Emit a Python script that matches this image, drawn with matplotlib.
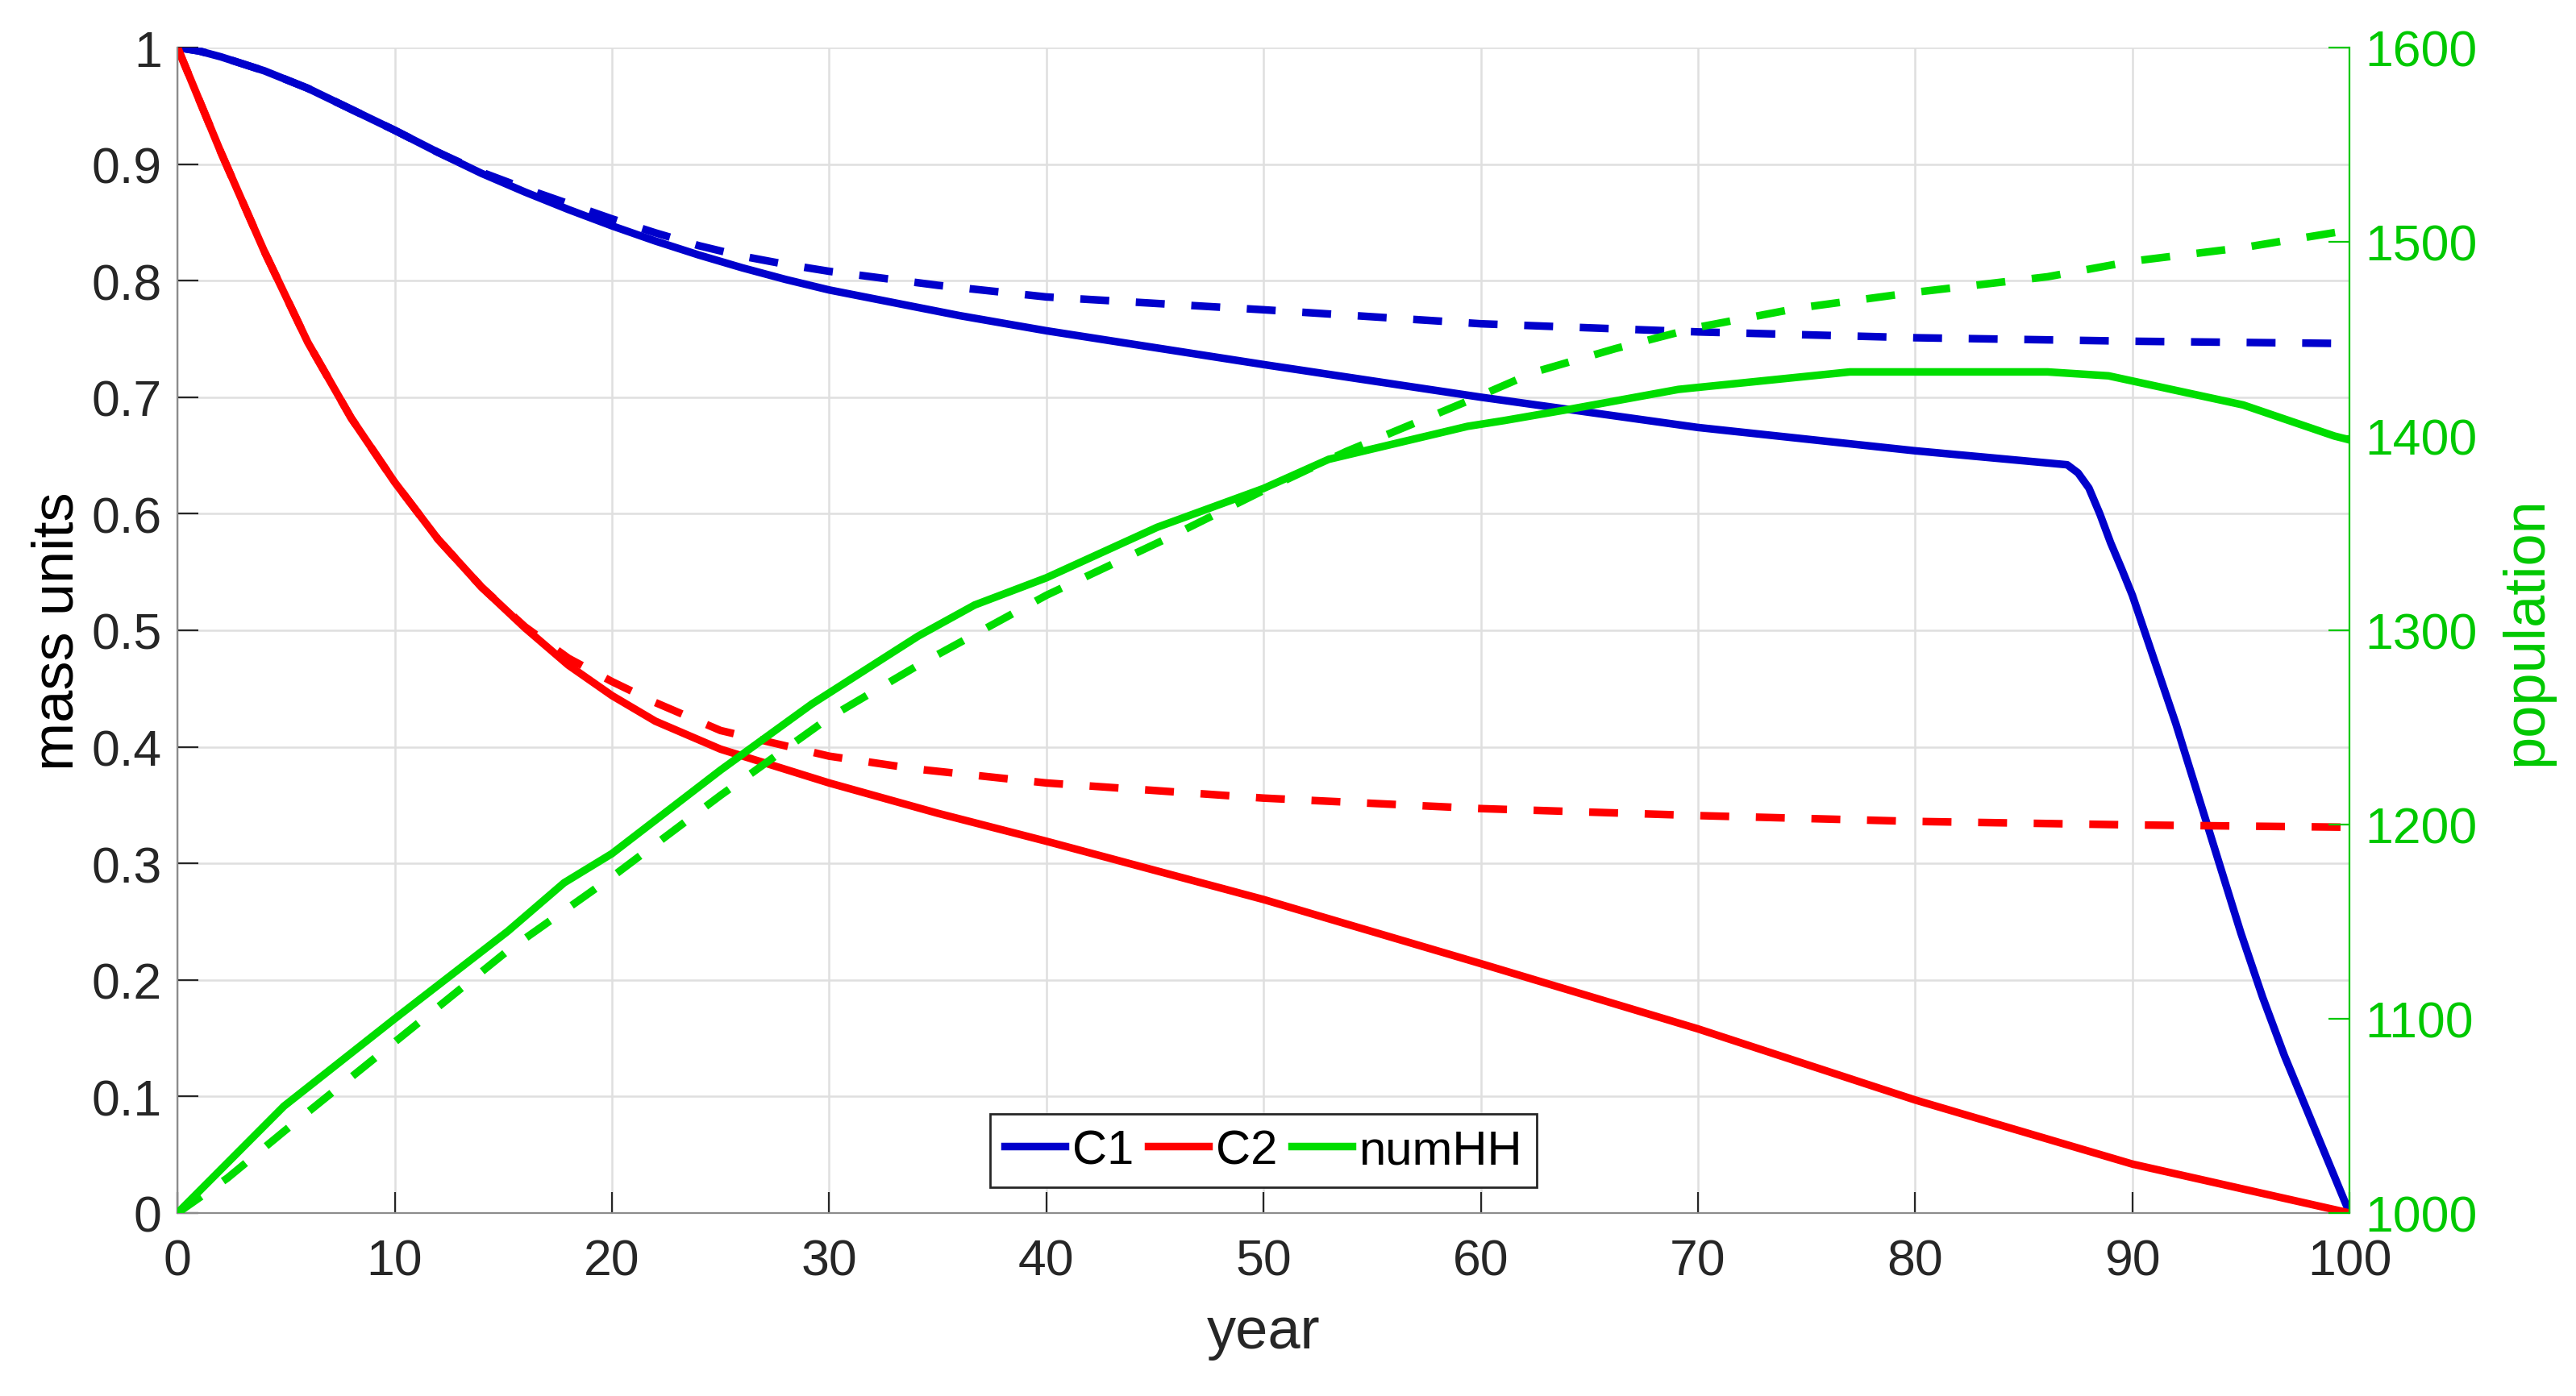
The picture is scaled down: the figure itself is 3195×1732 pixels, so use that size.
import numpy as np
import matplotlib
matplotlib.use('Agg')
import matplotlib.pyplot as plt

plt.rcParams['font.family'] = ['Liberation Sans', 'DejaVu Sans']

# C1 (solid) and C1 dashed, mass units
t_c1 = [0, 1, 2, 4, 6, 8, 10, 12, 14, 16, 18, 20, 22, 24, 26, 28, 30, 33, 36, 40, 50, 60,
        70, 80, 87, 87.5, 88, 88.5, 89, 89.5, 90, 91, 92, 93, 94, 95, 96, 97, 98, 99, 100]
c1 = [1.0, 0.997, 0.992, 0.98, 0.965, 0.947, 0.929, 0.91, 0.892, 0.876, 0.861, 0.847,
      0.834, 0.822, 0.811, 0.801, 0.792, 0.781, 0.770, 0.757, 0.728, 0.700, 0.674, 0.654,
      0.642, 0.635, 0.622, 0.600, 0.575, 0.553, 0.530, 0.475, 0.420, 0.360, 0.300, 0.240,
      0.185, 0.135, 0.090, 0.045, 0.0]
t_c1d = [0, 1, 2, 4, 6, 8, 10, 12, 14, 16, 18, 20, 22, 24, 26, 28, 30, 35, 40, 50, 60, 70,
         80, 90, 100]
c1d = [1.0, 0.997, 0.992, 0.98, 0.965, 0.947, 0.929, 0.91, 0.893, 0.879, 0.866, 0.853,
       0.841, 0.830, 0.821, 0.814, 0.808, 0.796, 0.786, 0.775, 0.763, 0.756, 0.751, 0.748,
       0.746]

# C2 (solid) and C2 dashed
t_c2 = [0, 2, 4, 6, 8, 10, 12, 14, 16, 18, 20, 22, 25, 30, 35, 40, 50, 60, 70, 80, 90, 100]
c2 = [1.0, 0.91, 0.825, 0.747, 0.682, 0.627, 0.578, 0.537, 0.502, 0.470, 0.444, 0.422,
      0.398, 0.369, 0.343, 0.319, 0.269, 0.214, 0.158, 0.097, 0.042, 0.0]
t_c2d = [0, 2, 4, 6, 8, 10, 12, 14, 16, 18, 20, 22, 25, 30, 34, 40, 50, 60, 70, 80, 90, 100]
c2d = [1.0, 0.91, 0.825, 0.747, 0.682, 0.627, 0.578, 0.537, 0.503, 0.476, 0.456, 0.438,
       0.414, 0.392, 0.381, 0.369, 0.356, 0.347, 0.341, 0.336, 0.333, 0.331]

# numHH population (solid) and dashed
t_hh = [0, 4.9, 10, 15.2, 17.8, 20, 25, 29.2, 34.1, 36.7, 40, 45.1, 50, 53, 59.4, 61.1,
        64.2, 69.1, 77, 86.1, 88.9, 95.1, 99.3, 100]
hh = [1000, 1055, 1100, 1145, 1170, 1185, 1228, 1262, 1297, 1313, 1327, 1353, 1373, 1388,
      1405, 1408, 1414, 1424, 1433, 1433, 1431, 1416, 1400, 1398]
t_hhd = [0, 2.3, 4.9, 10, 15.2, 20, 25, 30, 34.1, 40, 45.5, 50, 53.8, 59.4, 62.5, 66.2,
         70, 74.7, 80, 86.1, 90, 95.1, 100]
hhd = [1000, 1018, 1042, 1088, 1135, 1173, 1215, 1255, 1282, 1318, 1347, 1372, 1392, 1418,
       1433, 1445, 1456, 1466, 1474, 1482, 1490, 1497, 1506]

blue = '#0000CC'
red = '#FF0000'
green = '#00DD00'
green_txt = '#00C800'
dark = '#262626'
lw = 3.4
dash = (3.8, 3.5)
fs_tick = 22.5
fs_lab = 26

fig = plt.figure(figsize=(15.975, 8.665), dpi=200)
ax1 = fig.add_axes([0.0689, 0.131, 0.8432, 0.8344])
ax2 = ax1.twinx()

l1, = ax1.plot(t_c1, c1, color=blue, lw=lw, label='C1')
ax1.plot(t_c1d, c1d, color=blue, lw=lw, dashes=dash)
l2, = ax1.plot(t_c2, c2, color=red, lw=lw, label='C2')
ax1.plot(t_c2d, c2d, color=red, lw=lw, dashes=dash)
l3, = ax2.plot(t_hh, hh, color=green, lw=lw, label='numHH')
ax2.plot(t_hhd, hhd, color=green, lw=lw, dashes=dash)

ax1.set_xlim(0, 100)
ax1.set_ylim(0, 1)
ax2.set_ylim(1000, 1600)
ax1.set_xticks(np.arange(0, 101, 10))
ax1.set_yticks(np.arange(0, 1.01, 0.1))
ax1.set_yticklabels(['0', '0.1', '0.2', '0.3', '0.4', '0.5', '0.6', '0.7', '0.8', '0.9', '1'])
ax2.set_yticks(np.arange(1000, 1601, 100))

ax1.grid(True, color='#DFDFDF', lw=0.9)
ax1.set_axisbelow(True)

for ax in (ax1, ax2):
    ax.spines['top'].set_visible(False)
ax1.spines['left'].set_color('#8c8c8c')
ax1.spines['bottom'].set_color('#8c8c8c')
ax1.spines['right'].set_visible(False)
ax2.spines['left'].set_visible(False)
ax2.spines['bottom'].set_visible(False)
ax2.spines['right'].set_color(green_txt)
for s in ax1.spines.values():
    s.set_linewidth(0.8)
ax2.spines['right'].set_linewidth(0.8)

ax1.tick_params(axis='x', direction='in', length=9.4, width=0.8, color=dark,
                labelsize=fs_tick, labelcolor=dark, pad=11)
ax1.tick_params(axis='y', direction='in', length=9.4, width=0.8, color=dark,
                labelsize=fs_tick, labelcolor=dark, pad=7)
ax2.tick_params(axis='y', direction='in', length=9.4, width=0.8, color=green_txt,
                labelsize=fs_tick, labelcolor=green_txt, pad=7)

ax1.set_xlabel('year', fontsize=fs_lab, color=dark, labelpad=9)
ax1.set_ylabel('mass units', fontsize=fs_lab, color='black', labelpad=3)
ax2.set_ylabel('population', fontsize=fs_lab, color=green_txt, labelpad=10)

leg = ax2.legend(handles=[l1, l2, l3], loc='lower center', bbox_to_anchor=(0.5, 0.022),
                 borderaxespad=0, ncol=3, fontsize=fs_tick - 1, handlelength=1.25,
                 handletextpad=0.15, columnspacing=0.3, borderpad=0.3, fancybox=False,
                 framealpha=1)
leg.get_frame().set_edgecolor(dark)
leg.get_frame().set_linewidth(1.0)

fig.savefig('out.png', dpi=200)
